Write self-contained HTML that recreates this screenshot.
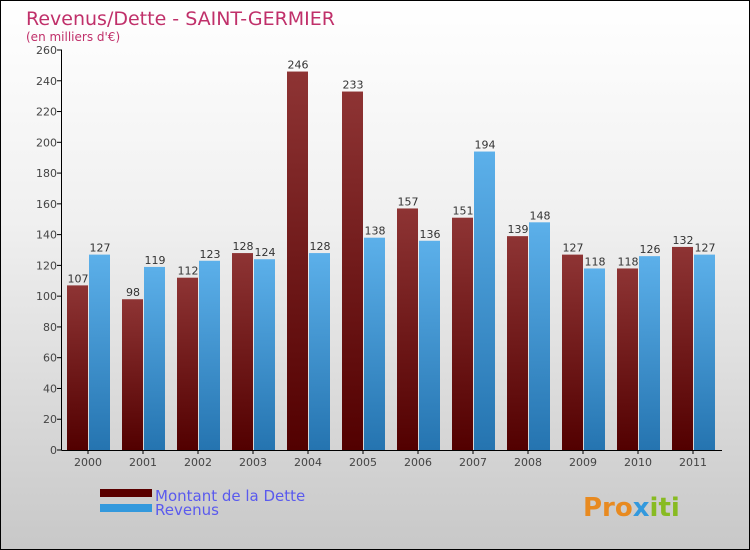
<!DOCTYPE html>
<html><head><meta charset="utf-8"><style>
body{margin:0}
#c{position:relative;width:748px;height:548px;border:1px solid #000;background:linear-gradient(#fff,#f0f0f0 40%,#c8c8c8);font-family:"DejaVu Sans","Liberation Sans",sans-serif;overflow:hidden}
</style></head><body>
<div id="c">
<svg id="s" width="748" height="548">
<defs>
<linearGradient id="gd" x1="0" y1="0" x2="0" y2="1"><stop offset="0" stop-color="#8e3434"/><stop offset="1" stop-color="#520000"/></linearGradient>
<linearGradient id="gr" x1="0" y1="0" x2="0" y2="1"><stop offset="0" stop-color="#5cb0ea"/><stop offset="1" stop-color="#2574b0"/></linearGradient>
</defs>
<text x="25" y="24" font-size="19" fill="#c0306a">Revenus/Dette - SAINT-GERMIER</text>
<text x="25" y="40" font-size="12" fill="#c0306a">(en milliers d'€)</text>
<g id="g"></g>
<rect x="99" y="488" width="52" height="8" fill="#5a0000"/>
<rect x="99" y="503" width="52" height="8" fill="#3399dd"/>
<text x="154" y="500" font-size="15" fill="#5a5aee">Montant de la Dette</text>
<text x="154" y="514" font-size="15" fill="#5a5aee">Revenus</text>
<text x="582" y="515" font-size="26" font-weight="bold" fill="#e88a20">Pro<tspan fill="#3399dd">x</tspan><tspan fill="#88bb22">iti</tspan></text>
</svg>
</div>
<script>
const years=["2000","2001","2002","2003","2004","2005","2006","2007","2008","2009","2010","2011"];
const dette=[107,98,112,128,246,233,157,151,139,127,118,132];
const revenus=[127,119,123,124,128,138,136,194,148,118,126,127];
const yTicks=[0,20,40,60,80,100,120,140,160,180,200,220,240,260];
const NS="http://www.w3.org/2000/svg";
const g=document.getElementById('g');
const y=v=>449-v*400/260;
const xc=i=>87+i*55;
function mk(t,a){const e=document.createElementNS(NS,t);for(const k in a)e.setAttribute(k,a[k]);g.appendChild(e);return e;}
yTicks.forEach(v=>{
 const l=mk('line',{x1:56,x2:61,y1:y(v),y2:y(v),stroke:'#000'});
 
 
 const t=mk('text',{x:56,y:y(v)+4,'font-size':11,fill:'#444','text-anchor':'end'});
 t.textContent=v;
 
 
});
years.forEach((yr,i)=>{
 const c=xc(i);
 const b1=mk('rect',{x:c-21,y:y(dette[i]),width:21,height:449-y(dette[i]),fill:'url(#gd)'});
 
 
 const b2=mk('rect',{x:c+1,y:y(revenus[i]),width:21,height:449-y(revenus[i]),fill:'url(#gr)'});
 
 
 const t1=mk('text',{x:c-10,y:y(dette[i])-3,'font-size':11,fill:'#333','text-anchor':'middle'});
 t1.textContent=dette[i];
 
 
 const t2=mk('text',{x:c+12,y:y(revenus[i])-3,'font-size':11,fill:'#333','text-anchor':'middle'});
 t2.textContent=revenus[i];
 
 
 const tk=mk('line',{x1:c,x2:c,y1:449,y2:453,stroke:'#000'});
 
 
 const xl=mk('text',{x:c,y:465,'font-size':11,fill:'#444','text-anchor':'middle'});
 xl.textContent=yr;
 
 
});
const ya=mk('line',{x1:60.5,x2:60.5,y1:y(260),y2:449.5,stroke:'#000'});


const xa=mk('line',{x1:60.5,x2:721,y1:449.5,y2:449.5,stroke:'#000'});


</script>
</body></html>
